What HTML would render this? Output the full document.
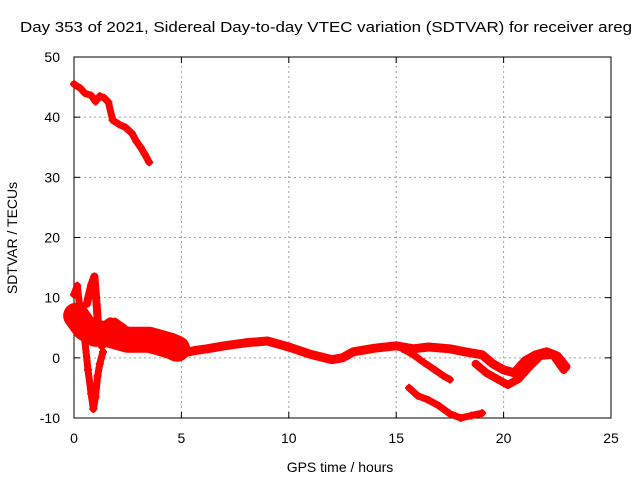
<!DOCTYPE html>
<html><head><meta charset="utf-8">
<style>
html,body{margin:0;padding:0;background:#fff;}
svg{display:block;font-family:"Liberation Sans",sans-serif;}
</style></head>
<body>
<svg id="chart" width="640" height="480" viewBox="0 0 640 480">
<text x="20" y="32" font-size="15" textLength="612" lengthAdjust="spacingAndGlyphs" fill="#000">Day 353 of 2021, Sidereal Day-to-day VTEC variation (SDTVAR) for receiver areg</text>
<g id="grid"></g>
<g id="axes"></g>
<g id="marks"></g>
<text x="340" y="472" font-size="14" text-anchor="middle">GPS time / hours</text>
<text x="17" y="238" font-size="14" text-anchor="middle" transform="rotate(-90 17 238)">SDTVAR / TECUs</text>
</svg>
<script>
const xTicks = [0,5,10,15,20,25];
const yTicks = [-10,0,10,20,30,40,50];
const arcTop = [[0,45.5],[0.3,44.8],[0.5,44],[0.8,43.6],[1.0,42.6],[1.2,43.5],[1.4,43.2],[1.6,42.5],[1.8,39.5],[2.1,38.8],[2.4,38.3],[2.7,37.3],[2.9,36],[3.1,35],[3.3,33.8],[3.5,32.5]];
const arcSpike = [[0,10.5],[0.15,12],[0.25,9],[0.35,6],[0.5,3],[0.65,-2],[0.8,-6],[0.9,-8.5],[1.0,-6.5],[1.1,-3],[1.2,-1],[1.35,1]];
const arcSpike2 = [[0.6,9],[0.8,12],[0.95,13.5],[1.05,9],[1.15,4],[1.3,2],[1.6,4],[1.9,6],[2.3,5],[2.8,3],[3.3,4],[3.8,2.5],[4.3,2],[4.8,1]];
const arcEarly = [[0.1,7],[0.5,5],[1.0,4],[1.5,4],[2.0,3.5],[2.5,3],[3.0,3],[3.5,3],[4.0,2.5],[4.5,2],[4.8,1.5]];
const arcMain = [[0,7],[0.4,5],[0.8,4.5],[1.3,5],[1.7,6],[2.2,4],[2.6,2.5],[3.1,4],[3.6,3],[4.1,2],[4.6,1.5],[5.1,0.8],[5.6,1.2],[6.2,1.5],[7,2],[8,2.5],[9,2.8],[10,1.8],[11,0.6],[12,-0.3],[12.5,0],[13,1],[14,1.6],[15,2],[15.8,1.5],[16.5,1.8],[17.5,1.5],[18.2,1],[19,0.5],[19.5,-1],[20,-2],[20.5,-2.5],[21,-0.5],[21.5,0.5],[22,1],[22.5,0.3],[22.9,-1.5]];
const arcBranch1 = [[15.3,1.5],[15.8,0.5],[16.3,-0.8],[16.8,-2],[17.2,-3],[17.5,-3.6]];
const arcBranch2 = [[18.7,-1],[19.2,-2.5],[19.7,-3.5],[20.2,-4.5],[20.7,-3.5],[21.2,-1.5],[21.7,0.3],[22.3,0.5],[22.8,-2]];
const arcLow = [[15.6,-5],[16,-6.3],[16.5,-7],[17,-8],[17.5,-9.3],[18,-10],[18.5,-9.6],[19,-9.2]];
const series = [arcTop, arcSpike, arcSpike2, arcEarly, arcMain, arcBranch1, arcBranch2, arcLow];
const widths = [7,7,8,26,9,7,8,7];

const NS="http://www.w3.org/2000/svg";
const X0=74,X1=611,Y0=418,Y1=57;
const xs = v => X0 + (v-0)/(25-0)*(X1-X0);
const ys = v => Y0 - (v+10)/(60)*(Y0-Y1);
function mk(tag,attrs,parent){const e=document.createElementNS(NS,tag);for(const k in attrs)e.setAttribute(k,attrs[k]);parent.appendChild(e);return e;}
const grid=document.getElementById('grid'),axes=document.getElementById('axes'),marks=document.getElementById('marks');
xTicks.forEach(t=>{
  if(t>0&&t<25){const l=mk('line',{x1:xs(t),x2:xs(t),y1:Y0,y2:Y1,stroke:'#a0a0a0','stroke-dasharray':'2,3'},grid);
  
  }
  mk('line',{x1:xs(t),x2:xs(t),y1:Y0,y2:Y0-6,stroke:'#000'},axes);
  mk('line',{x1:xs(t),x2:xs(t),y1:Y1,y2:Y1+6,stroke:'#000'},axes);
  const tx=mk('text',{x:xs(t),y:Y0+25,'font-size':14,'text-anchor':'middle'},axes);tx.textContent=t;
  
  
});
yTicks.forEach(t=>{
  if(t>-10&&t<50){const l=mk('line',{x1:X0,x2:X1,y1:ys(t),y2:ys(t),stroke:'#a0a0a0','stroke-dasharray':'2,3'},grid);
  
  }
  mk('line',{x1:X0,x2:X0+6,y1:ys(t),y2:ys(t),stroke:'#000'},axes);
  mk('line',{x1:X1,x2:X1-6,y1:ys(t),y2:ys(t),stroke:'#000'},axes);
  const tx=mk('text',{x:X0-14,y:ys(t)+5,'font-size':14,'text-anchor':'end'},axes);tx.textContent=t;
  
  
});
const fr=mk('rect',{x:X0,y:Y1,width:X1-X0,height:Y0-Y1,fill:'none',stroke:'#000'},axes);


series.forEach((s,i)=>{
  const pl=mk('polyline',{points:s.map(p=>xs(p[0])+','+ys(p[1])).join(' '),fill:'none',stroke:'#ff0000','stroke-width':widths[i],'stroke-linejoin':'round','stroke-linecap':'round'},marks);
  
  
  s.forEach(p=>{
    const x=xs(p[0]),y=ys(p[1]);
    const m=mk('path',{d:`M${x-4},${y}H${x+4}M${x},${y-4}V${y+4}`,stroke:'#ff0000','stroke-width':2},marks);
    
    
  });
});
</script>
</body></html>
